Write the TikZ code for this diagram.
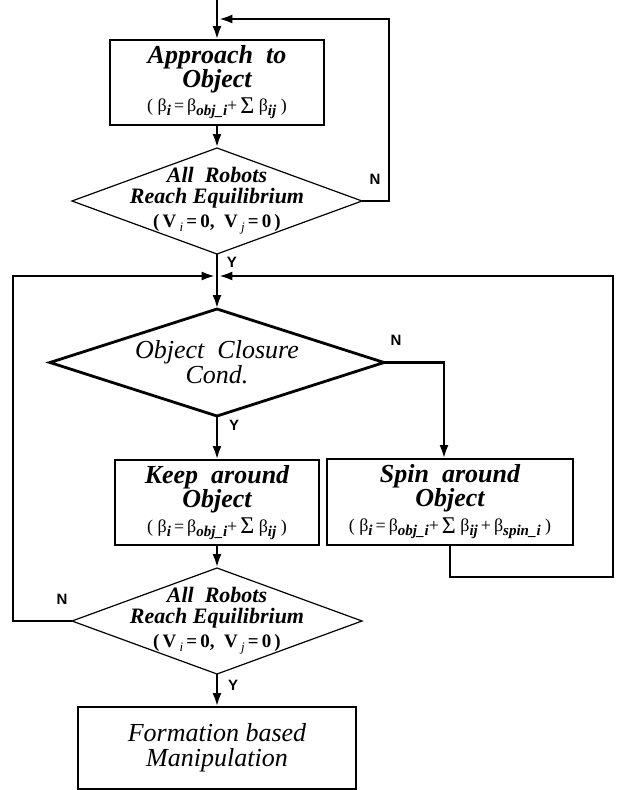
\documentclass[tikz,border=0pt]{standalone}
\usepackage{fontspec}
\setmainfont{Liberation Serif}
\newfontfamily\yesnofont{Liberation Sans}
\usetikzlibrary{arrows.meta,shapes.geometric}

\newcommand{\bsub}[1]{\raisebox{-0.5ex}{\fontsize{15}{15}\selectfont\bfseries\itshape #1}}
\newcommand{\vsub}[1]{\raisebox{-0.5ex}{\fontsize{13}{13}\selectfont\mdseries\itshape #1}}
\newcommand{\sumsign}{\raisebox{-0.15ex}{\fontsize{24}{24}\selectfont Σ}}
\newcommand{\betaeq}{{\fontsize{18}{18}\selectfont\mdseries\upshape(~β\bsub{i}\,=\,β\bsub{obj\_i}+\,\sumsign\ β\bsub{ij}~)}}
\newcommand{\spineq}{{\fontsize{18}{18}\selectfont\mdseries\upshape(~β\bsub{i}\,=\,β\bsub{obj\_i}+\,\sumsign\ β\bsub{ij}\,+\,β\bsub{spin\_i}~)}}
\newcommand{\veq}{{\fontsize{19}{19}\selectfont\bfseries\upshape(\,V\,\vsub{i}\,=\,0,~~V\,\vsub{j}\,=\,0\,)}}

\begin{document}
\begin{tikzpicture}[x=1pt,y=-1pt]
\tikzset{process/.style = {shape=rectangle,draw,line width=1.2pt,inner sep=0pt,outer sep=0pt,align=center,
  font=\fontsize{26}{24}\selectfont\bfseries\itshape}}
\tikzset{decision/.style = {shape=diamond,draw,line width=1.2pt,inner sep=0pt,outer sep=0pt}}
\tikzset{dtext/.style = {align=center,font=\fontsize{22}{21}\selectfont\bfseries\itshape}}
\tikzset{edge/.style = {-{Latex[length=14pt,width=9pt]},line width=2.8pt}}
\tikzset{yesno/.style = {font=\yesnofont\fontsize{15}{15}\selectfont\bfseries}}
\useasboundingbox (0,0) rectangle (621,790);
% NODES
\coordinate (start) at (217,0);
\node[process,minimum width=214pt,minimum height=85pt] (approach) at (217,82.5)
  {Approach~~to\\Object\\[0pt]\betaeq};
\node[decision,minimum width=290pt,minimum height=106pt,
  label={[dtext]center:{All~~Robots\\Reach Equilibrium\\[3pt]\veq}}] (reach1) at (217,201) {};
\node[decision,line width=2.8pt,minimum width=334pt,minimum height=107pt,
  label={[align=center,font=\fontsize{26}{25}\selectfont\itshape]center:{Object~~Closure\\Cond.}}] (closure) at (217,362.5) {};
\node[process,minimum width=204pt,minimum height=85pt] (keep) at (217,502.5)
  {Keep~~around\\Object\\[1pt]\betaeq};
\node[process,minimum width=246pt,minimum height=86pt] (spin) at (450,502)
  {Spin~~around\\Object\\[1pt]\spineq};
\node[decision,minimum width=290pt,minimum height=106pt,
  label={[dtext]center:{All~~Robots\\Reach Equilibrium\\[3pt]\veq}}] (reach2) at (217,621) {};
\node[process,minimum width=278pt,minimum height=82pt,font=\fontsize{26}{25}\selectfont\itshape] (manip) at (217,748)
  {Formation based\\Manipulation};
\coordinate (merge1) at (217,19);
\coordinate (loop1) at (389,19);
\coordinate (merge2) at (217,276);
\coordinate (loopL) at (13,276);
\coordinate (loopR) at (613,577);
% LABELS
\node[yesno] (n1) at (375,179) {N};
\node[yesno] (y1) at (232,262) {Y};
\node[yesno] (n2) at (396,340) {N};
\node[yesno] (y2) at (234,425) {Y};
\node[yesno] (n3) at (62,599) {N};
\node[yesno] (y3) at (233,685) {Y};
% EDGES
\draw[edge] (start) -- (approach.north);
\draw[edge] (approach.south) -- (reach1.north);
\draw[edge,shorten >=1.4pt] (reach1.east) -| (loop1) -- (merge1);
\draw[edge] (reach1.south) -- (closure.north);
\draw[edge,shorten >=1.4pt] (reach2.west) -| (loopL) -- (merge2);
\draw[edge,shorten >=1.4pt] (spin.south) |- (loopR) |- (merge2);
\draw[edge] (closure.south) -- (keep.north);
\draw[edge] (closure.east) -| ([xshift=-6pt]spin.north);
\draw[edge] (keep.south) -- (reach2.north);
\draw[edge] (reach2.south) -- (manip.north);
\end{tikzpicture}
\end{document}
